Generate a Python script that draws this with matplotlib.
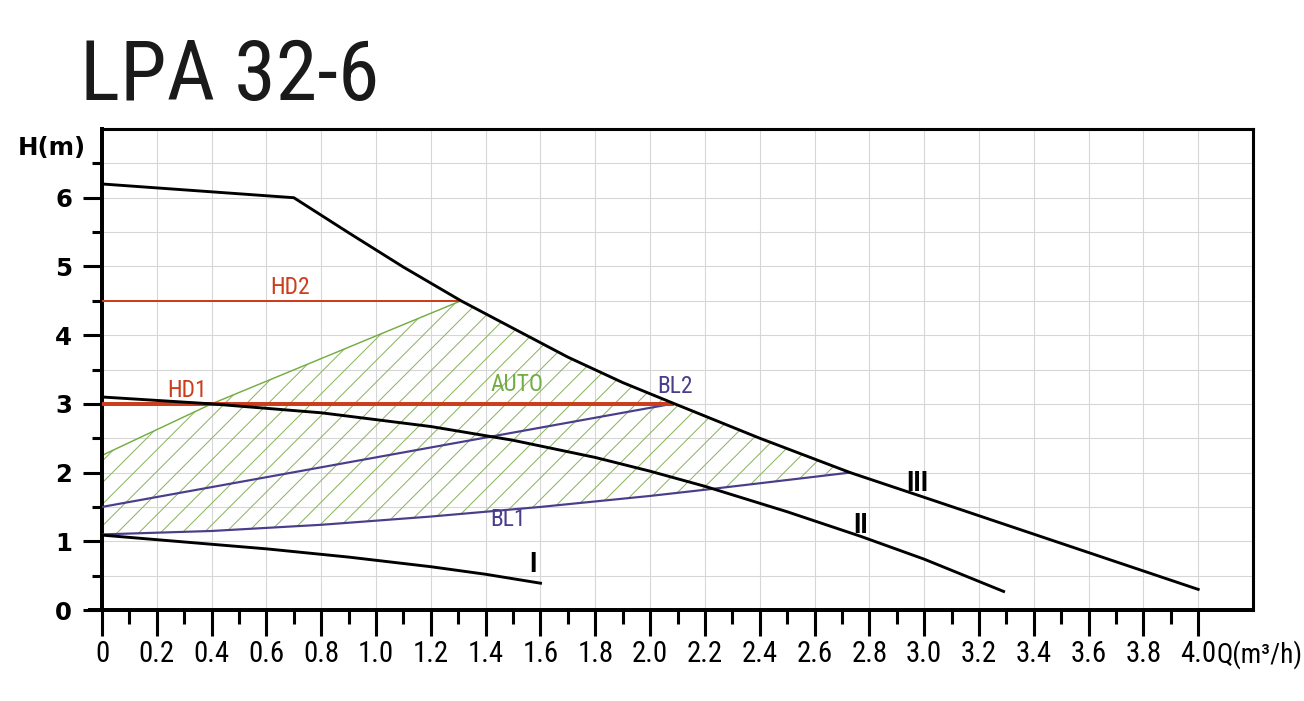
import matplotlib
matplotlib.use('Agg')
import matplotlib.pyplot as plt
from matplotlib import font_manager
from matplotlib.ticker import FixedLocator

# 可用字体 (窄体优先)
names = set(f.name for f in font_manager.fontManager.ttflist)
narrow = 'DejaVu Sans'
for n in ['Liberation Sans Narrow', 'Roboto Condensed', 'Open Sans Condensed', 'Noto Sans Display']:
    if n in names:
        narrow = n
        break

# 曲线数据 Q(m3/h), H(m)
q_iii = [0, 0.7, 0.9, 1.1, 1.31, 1.5, 1.7, 1.9, 2.09, 2.4, 2.73, 3.0, 3.5, 4.0]
h_iii = [6.2, 6.0, 5.49, 4.99, 4.5, 4.1, 3.68, 3.31, 3.0, 2.5, 2.0, 1.64, 0.97, 0.3]

q_ii = [0, 0.4, 0.8, 1.2, 1.5, 1.8, 2.0, 2.2, 2.5, 2.77, 3.0, 3.29]
h_ii = [3.1, 3.0, 2.87, 2.67, 2.47, 2.22, 2.02, 1.8, 1.43, 1.07, 0.74, 0.27]

q_i = [0, 0.3, 0.6, 0.9, 1.2, 1.4, 1.6]
h_i = [1.09, 0.99, 0.89, 0.77, 0.63, 0.52, 0.39]

q_bl1 = [0, 0.4, 0.8, 1.2, 1.6, 2.0, 2.2, 2.73]
h_bl1 = [1.1, 1.15, 1.24, 1.36, 1.5, 1.66, 1.75, 2.0]

q_bl2 = [0, 2.08]
h_bl2 = [1.5, 3.0]

q_auto = [0, 0.4, 1.31]
h_auto = [2.25, 3.0, 4.5]

q_hd2 = [0, 1.31]
h_hd2 = [4.5, 4.5]
q_hd1 = [0, 2.08]
h_hd1 = [3.0, 3.0]

x_ticks = [0, 0.2, 0.4, 0.6, 0.8, 1.0, 1.2, 1.4, 1.6, 1.8, 2.0, 2.2, 2.4, 2.6, 2.8, 3.0, 3.2, 3.4, 3.6, 3.8, 4.0]
x_labels = ['0'] + ['{:.1f}'.format(v) for v in x_ticks[1:]]
y_ticks = [0, 1, 2, 3, 4, 5, 6]

RED = '#cc3d1c'
GREEN = '#72ad42'
PURPLE = '#4a3d8c'
HATCH = '#8ab35e'

DPI = 130
plt.rcParams['hatch.linewidth'] = 0.55
fig = plt.figure(figsize=(1304 / DPI, 701 / DPI), dpi=DPI)
ax = fig.add_axes([102 / 1304, 1 - 610 / 701, (1253 - 102) / 1304, (610 - 129) / 701])
ax.set_xlim(0, 4.2)
ax.set_ylim(0, 7)

# 刻度与网格
ax.set_xticks(x_ticks)
ax.set_xticklabels(x_labels, family=narrow, fontsize=16)
ax.xaxis.set_minor_locator(FixedLocator([v + 0.1 for v in x_ticks[:-1]]))
ax.set_yticks(y_ticks)
ax.set_yticklabels([str(v) for v in y_ticks], fontsize=13.5, fontweight='bold')
ax.yaxis.set_minor_locator(FixedLocator([v + 0.5 for v in y_ticks]))
for g in [0.2 * k for k in range(1, 21)]:
    ax.axvline(g, color='#d6d6d6', lw=0.6, zorder=0)
for g in [0.5 * k for k in range(1, 14)]:
    ax.axhline(g, color='#d6d6d6', lw=0.6, zorder=0)

ax.tick_params(axis='x', which='major', length=14.4, width=1.7, pad=2, direction='out')
ax.tick_params(axis='x', which='minor', length=7.8, width=1.7, direction='out')
ax.tick_params(axis='y', which='major', length=10.5, width=1.7, pad=6, direction='out')
ax.tick_params(axis='y', which='minor', length=5.5, width=1.7, direction='out')

for s in ['left', 'bottom']:
    ax.spines[s].set_linewidth(2.2)
for s in ['top', 'right']:
    ax.spines[s].set_linewidth(1.7)
ax.spines['bottom'].set_bounds(-0.045, 4.2)

# AUTO 区域阴影
poly_q = list(q_auto) + [q for q in q_iii if 1.31 < q < 2.73] + q_bl1[::-1]
poly_h = list(h_auto) + [h for q, h in zip(q_iii, h_iii) if 1.31 < q < 2.73] + h_bl1[::-1]
ax.fill(poly_q, poly_h, facecolor='none', edgecolor=HATCH, hatch='//', lw=0, zorder=1)

# 曲线
ax.plot(q_auto, h_auto, color=GREEN, lw=0.8, zorder=2)
ax.plot(q_bl1, h_bl1, color=PURPLE, lw=1.2, zorder=3)
ax.plot(q_bl2, h_bl2, color=PURPLE, lw=1.2, zorder=3)
ax.plot(q_hd2, h_hd2, color=RED, lw=1.1, zorder=3)
ax.plot(q_hd1, h_hd1, color=RED, lw=2.2, zorder=3)
ax.plot(q_iii, h_iii, color='black', lw=1.6, zorder=4)
ax.plot(q_ii, h_ii, color='black', lw=1.6, zorder=4)
ax.plot(q_i, h_i, color='black', lw=1.6, zorder=4)

# 标注
lab = dict(family=narrow, fontsize=13, ha='center', va='bottom', zorder=5)
ax.text(0.686, 4.53, 'HD2', color=RED, **lab)
ax.text(0.31, 3.03, 'HD1', color=RED, **lab)
ax.text(1.515, 3.11, 'AUTO', color=GREEN, **lab)
ax.text(2.09, 3.08, 'BL2', color=PURPLE, **lab)
ax.text(1.48, 1.15, 'BL1', color=PURPLE, **lab)
rom = dict(family=narrow, fontsize=15, fontweight='bold', ha='center', va='bottom', color='black', zorder=5)
ax.text(1.573, 0.46, 'I', **rom)
ax.text(2.77, 1.03, 'II', **rom)
ax.text(2.975, 1.65, 'III', **rom)

ax.text(4.065, -30 / 481, 'Q(m³/h)', transform=ax.get_xaxis_transform(), family=narrow,
        fontsize=15, ha='left', va='top')

fig.text(18 / 1304, 1 - 155 / 701, 'H(m)', fontsize=13.5, fontweight='bold', va='baseline')
fig.text(80 / 1304, 1 - 100 / 701, 'LPA 32-6', family=narrow, fontsize=46.5, color='#1a1a1a', va='baseline')

fig.savefig('out.png', dpi=DPI)
